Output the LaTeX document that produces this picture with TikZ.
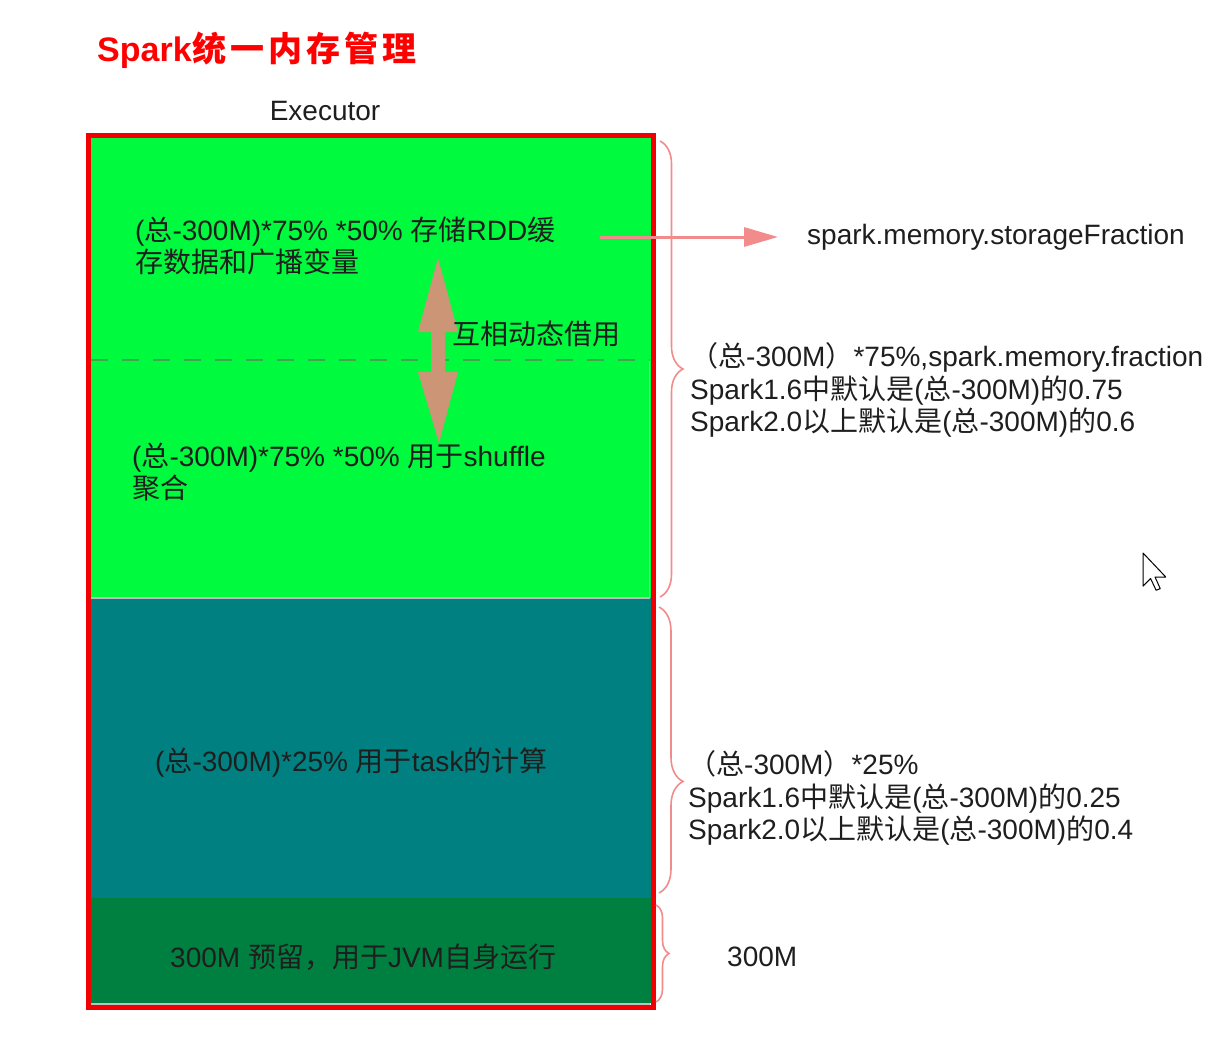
\documentclass[tikz,border=0pt]{standalone}
\usepackage{fontspec}
\setmainfont{Liberation Sans}
\newfontfamily\cjk{Noto Sans CJK SC}
\usetikzlibrary{arrows.meta,decorations.pathreplacing}
\newcommand\zh[1]{{\cjk #1}}
\definecolor{memgreen}{RGB}{0,250,62}
\definecolor{memteal}{RGB}{0,128,128}
\definecolor{memdark}{RGB}{0,128,64}
\definecolor{memred}{RGB}{240,0,0}
\definecolor{bracec}{RGB}{242,140,140}
\definecolor{borrowc}{RGB}{204,150,118}
\definecolor{dashc}{RGB}{70,165,80}
\definecolor{sepc}{RGB}{190,190,190}
\definecolor{textc}{RGB}{30,30,30}
\begin{document}
\begin{tikzpicture}[x=1pt,y=-1pt,
  txt/.style={text=textc, inner sep=0pt, font=\fontsize{28}{32.5}\selectfont},
  ltxt/.style={txt, anchor=west, align=left},
  bracepath/.style={draw=bracec, line width=1.6pt, decorate,
     decoration={brace, amplitude=#1}},
  bracepath/.default=22pt,
  pointer/.style={draw=bracec, line width=3pt, -{Triangle[length=34pt,width=19pt]}}
]
\useasboundingbox (0,0) rectangle (1215,1049);
\fill[white] (0,0) rectangle (1215,1049);

% title and label
\node[anchor=west, inner sep=0pt, text=red, font=\fontsize{34}{40}\selectfont\bfseries] (title) at (97,50)
  {Spark\zh{\hskip1pt 统\hskip4pt 一\hskip4pt 内\hskip4pt 存\hskip4pt 管\hskip4pt 理}};
\node[txt] (exec) at (325,111) {Executor};

% memory regions
\fill[memgreen] (88,135) rectangle (653,598);
\fill[memteal] (88,598) rectangle (653,898);
\fill[memdark] (88,898) rectangle (653,1003);
\draw[sepc, line width=2.5pt] (91,598) -- (650,598);
\draw[sepc, line width=2pt] (91,1003.5) -- (650,1003.5);
\draw[sepc, line width=1.5pt] (649.5,360) -- (649.5,597);
\draw[dashc, line width=2.2pt, dash pattern=on 17pt off 14pt] (91,360) -- (650,360);
\draw[memred, line width=5pt] (88.5,135.5) rectangle (653.5,1007.5);

% texts inside
\node[ltxt] (storage) at (135,246) {(\zh{总}-300M)*75\% *50\% \zh{存储}RDD\zh{缓}\\\zh{存数据和广播变量}};
\node[ltxt] (shuffle) at (132,472) {(\zh{总}-300M)*75\% *50\% \zh{用于}shuffle\\\zh{聚合}};
\node[ltxt] (task) at (155,763) {(\zh{总}-300M)*25\% \zh{用于}task\zh{的计算}};
\node[ltxt] (reserved) at (170,957) {300M \zh{预留，用于}JVM\zh{自身运行}};

% borrow double arrow
\fill[borrowc] (438,258) -- (458,332) -- (445,332) -- (445,372) -- (458,372) -- (439,443)
  -- (418,372) -- (431,372) -- (431,332) -- (418,332) -- cycle;
\node[ltxt] (borrow) at (452,334) {\zh{互相动态借用}};

% braces
\draw[bracepath=23pt] (660,141) -- (660,597);
\draw[bracepath=24pt, decoration={aspect=0.61}] (659,607) -- (659,893);
\draw[bracepath=13pt] (656,905) -- (656,1002);

% right texts
\coordinate (ps) at (600,237);
\node[ltxt] (sf) at (807,237) {spark.memory.storageFraction};
\draw[pointer, shorten >=29pt] (ps) -- (sf.west);

\node[ltxt] (unified) at (690,390) {\zh{（总}-300M\zh{）}*75\%,spark.memory.fraction\\Spark1.6\zh{中默认是}(\zh{总}-300M)\zh{的}0.75\\Spark2.0\zh{以上默认是}(\zh{总}-300M)\zh{的}0.6};
\node[ltxt] (user) at (688,798) {\zh{（总}-300M\zh{）}*25\%\\Spark1.6\zh{中默认是}(\zh{总}-300M)\zh{的}0.25\\Spark2.0\zh{以上默认是}(\zh{总}-300M)\zh{的}0.4};
\node[ltxt] (res) at (727,957) {300M};

% mouse pointer
\begin{scope}[shift={(1143,553)}, scale=1.38]
\filldraw[fill=white, draw=black, line width=1pt, line join=round]
  (0,0) -- (0,24) -- (5.5,18.5) -- (9.5,27) -- (12.5,25.8) -- (8.7,17.4) -- (16.5,17.4) -- cycle;
\end{scope}
\end{tikzpicture}
\end{document}
